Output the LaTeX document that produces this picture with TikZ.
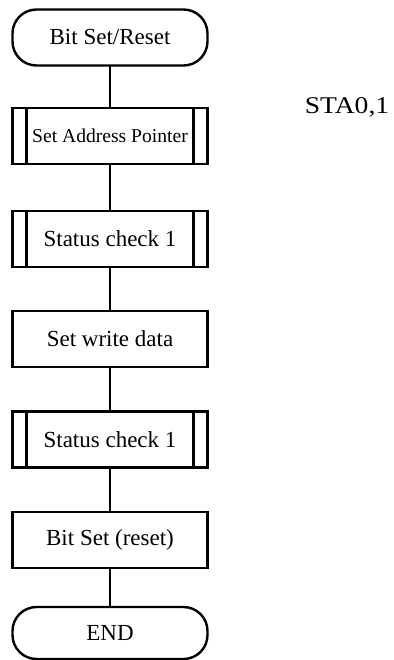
\documentclass[tikz,border=0pt]{standalone}
\usepackage{fontspec}
\usepackage{graphicx}
\setmainfont{Liberation Serif}
\begin{document}
\begin{tikzpicture}[x=1pt,y=-1pt,
  lw/.style={line width=2.4pt},
  box/.style={lw,draw,rectangle,minimum width=195pt,minimum height=56pt,inner sep=0pt,outer sep=0pt,font=\fontsize{23}{27}\selectfont},
  term/.style={box,rounded corners=24pt},
  link/.style={lw}]
\useasboundingbox (0,0) rectangle (393,660);
\node[term] (start) at (110,37.5) {Bit Set/Reset};
\node[box,font=\fontsize{19.6}{24}\selectfont] (sap) at (110,136) {Set Address Pointer};
\node[box] (sc1) at (110,239) {Status check 1};
\node[box] (swd) at (110,339) {Set write data};
\node[box] (sc2) at (110,439.5) {Status check 1};
\node[box] (bsr) at (110,540) {Bit Set (reset)};
\node[term,minimum height=52pt] (end) at (110,633) {END};
\foreach \n in {sap,sc1,sc2}{
  \draw[lw] ([xshift=14pt]\n.north west) -- ([xshift=14pt]\n.south west);
  \draw[lw] ([xshift=-14pt]\n.north east) -- ([xshift=-14pt]\n.south east);
}
\draw[link] (start) -- (sap);
\draw[link] (sap) -- (sc1);
\draw[link] (sc1) -- (swd);
\draw[link] (swd) -- (sc2);
\draw[link] (sc2) -- (bsr);
\draw[link] (bsr) -- (end);
\node[font=\fontsize{24}{28}\selectfont,inner sep=0pt] (sta) at (347,107) {\scalebox{1.15}[1]{STA0,1}};
\end{tikzpicture}
\end{document}
